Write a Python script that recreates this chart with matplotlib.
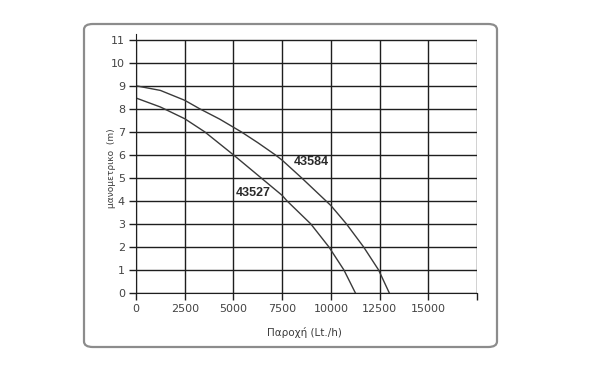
import matplotlib.pyplot as plt
from matplotlib.patches import FancyBboxPatch

# flow (Lt/h) and head (m)
flow_43584 = [0, 1250, 2500, 3272, 4300, 5400, 6250, 7150, 7500, 8500, 9750, 10000, 10800, 11680, 12450, 13000]
head_43584 = [9.0, 8.8, 8.37, 8.0, 7.55, 7.0, 6.53, 6.0, 5.77, 5.0, 4.0, 3.8, 3.0, 2.0, 1.0, 0.0]

flow_43527 = [0, 1250, 2500, 3527, 5000, 6420, 7500, 7750, 8970, 9900, 10670, 11260]
head_43527 = [8.47, 8.08, 7.57, 7.0, 6.0, 5.0, 4.24, 4.0, 3.0, 2.0, 1.0, 0.0]

x_ticks = [0, 2500, 5000, 7500, 10000, 12500, 15000, 17500]
x_labels = ['0', '2500', '5000', '7500', '10000', '12500', '15000', '']
y_ticks = list(range(0, 12))

W, H = 590, 372
fig = plt.figure(figsize=(W / 100, H / 100), dpi=100)

# rounded frame round the chart
frame = FancyBboxPatch((84 / W, 1 - 347 / H), 413 / W, 323 / H,
                       boxstyle='round,pad=0,rounding_size=0.015',
                       transform=fig.transFigure, facecolor='white',
                       edgecolor='#8c8c8c', linewidth=1.6, zorder=-1)
fig.patches.append(frame)

ax = fig.add_axes([136 / W, 1 - 293 / H, 341 / W, (293 - 34) / H])
ax.set_zorder(2)
ax.patch.set_alpha(0)

grid_c = '#1e1e1e'
ax.hlines(y_ticks, 0, 17500, color=grid_c, lw=1.0, zorder=1)
ax.vlines(x_ticks, 0, 11, color=grid_c, lw=1.0, zorder=1)

ax.plot(flow_43584, head_43584, color='#3a3a3a', lw=1.0, zorder=2)
ax.plot(flow_43527, head_43527, color='#3a3a3a', lw=1.0, zorder=2)

ax.text(8990, 5.68, '43584', fontsize=9, fontweight='bold',
        family='Liberation Sans', color='#2a2a2a', ha='center', va='center')
ax.text(6030, 4.35, '43527', fontsize=9, fontweight='bold',
        family='Liberation Sans', color='#2a2a2a', ha='center', va='center')

ax.set_xlim(0, 17500)
ax.set_ylim(0, 11.25)
ax.set_xticks(x_ticks)
ax.set_xticklabels(x_labels)
ax.set_yticks(y_ticks)
for s in ['top', 'right']:
    ax.spines[s].set_visible(False)
ax.spines['left'].set_color(grid_c)
ax.spines['bottom'].set_color(grid_c)
ax.tick_params(axis='x', length=5, width=1.0, color=grid_c, pad=3,
               labelsize=8, labelcolor='#444444')
ax.tick_params(axis='y', length=5, width=1.0, color=grid_c, pad=3,
               labelsize=8, labelcolor='#444444')

fig.text(112 / W, 1 - 168 / H, 'μανομετρικο  (m)', rotation=90,
         fontsize=6.5, color='#3c3c3c', ha='center', va='center', zorder=3)
fig.text(304 / W, 1 - 333 / H, 'Παροχή (Lt./h)', fontsize=7.5,
         color='#3c3c3c', ha='center', va='center', zorder=3)

fig.savefig('out.png', dpi=100)
